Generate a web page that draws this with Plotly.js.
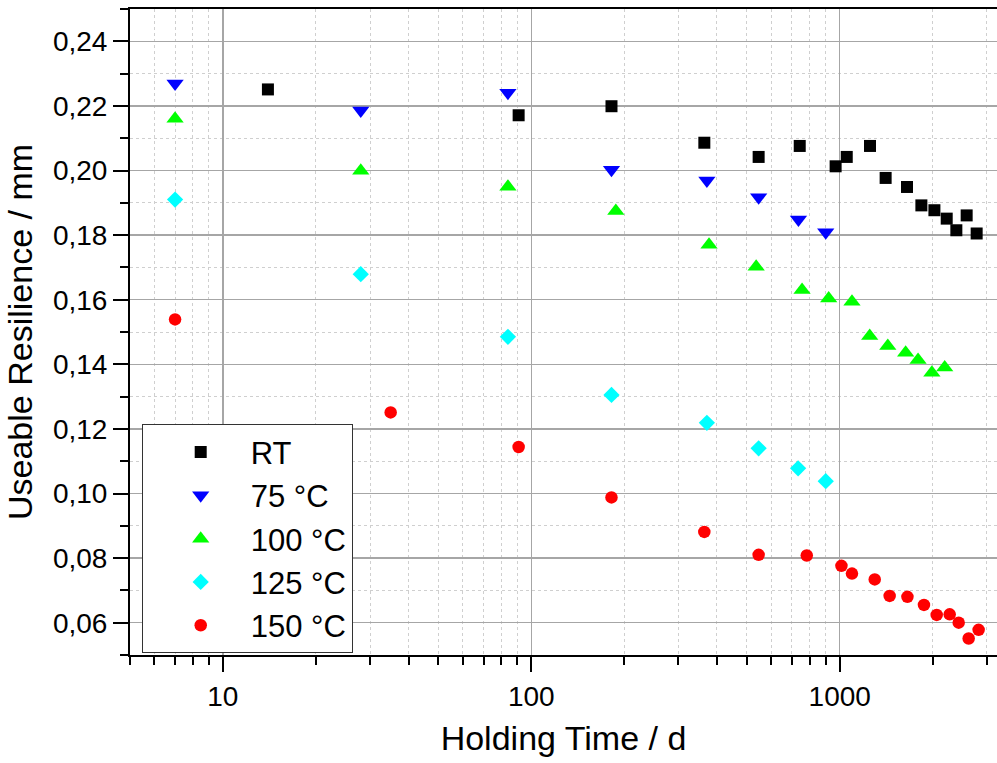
<!DOCTYPE html>
<html>
<head>
<meta charset="utf-8">
<script src="https://cdn.plot.ly/plotly-3.0.1.min.js"></script>
<style>html,body{margin:0;padding:0;overflow:hidden;background:#fff}</style>
</head>
<body>
<div id="chart" style="width:997px;height:763px"></div>
<script>
// Data
const seriesNames = ["RT", "75 °C", "100 °C", "125 °C", "150 °C"];

const rtX = [14, 91, 182, 364, 546, 742, 970, 1054, 1254, 1409, 1653, 1840, 2028, 2223, 2389, 2580, 2780];
const rtY = [0.2251, 0.2171, 0.2199, 0.2086, 0.2042, 0.2076, 0.2013, 0.2042, 0.2076, 0.1977, 0.1949, 0.1892, 0.1877, 0.1851, 0.1815, 0.1861, 0.1805];

const t75X = [7, 28, 84, 182, 371, 546, 735, 901];
const t75Y = [0.2269, 0.2186, 0.2241, 0.2002, 0.1969, 0.1917, 0.1848, 0.1809];

const t100X = [7, 28, 84, 188, 377, 536, 755, 921, 1096, 1251, 1432, 1636, 1795, 1990, 2190];
const t100Y = [0.2160, 0.1999, 0.1950, 0.1875, 0.1770, 0.1702, 0.1630, 0.1604, 0.1594, 0.1488, 0.1457, 0.1436, 0.1413, 0.1374, 0.1390];

const t125X = [7, 28, 84, 182, 371, 546, 733, 901];
const t125Y = [0.1910, 0.1679, 0.1485, 0.1305, 0.1219, 0.1140, 0.1078, 0.1038];

const t150X = [7, 35, 91, 182, 364, 546, 782, 1013, 1096, 1299, 1452, 1658, 1876, 2063, 2273, 2431, 2619, 2821];
const t150Y = [0.1539, 0.1251, 0.1144, 0.0988, 0.0881, 0.0810, 0.0808, 0.0776, 0.0752, 0.0734, 0.0683, 0.0680, 0.0655, 0.0624, 0.0626, 0.0600, 0.0551, 0.0578];

const FONT = "Liberation Sans, Arial, Helvetica, sans-serif";

function tr(name, x, y, symbol, color, size) {
  return {
    type: "scatter", mode: "markers", name: name, x: x, y: y,
    marker: {symbol: symbol, color: color, size: size, line: {width: 0}},
    cliponaxis: false
  };
}

const data = [
  tr(seriesNames[0], rtX, rtY, "square", "#000000", 12),
  tr(seriesNames[1], t75X, t75Y, "triangle-down", "#0000ff", 15),
  tr(seriesNames[2], t100X, t100Y, "triangle-up", "#00ff00", 15),
  tr(seriesNames[3], t125X, t125Y, "diamond", "#00ffff", 12.5),
  tr(seriesNames[4], t150X, t150Y, "circle", "#ff0000", 12.5)
];

const layout = {
  width: 997, height: 763,
  margin: {l: 130, r: 0, t: 9, b: 108},
  paper_bgcolor: "#ffffff", plot_bgcolor: "#ffffff",
  separators: ",.",
  font: {family: FONT, color: "#000000", size: 28},
  showlegend: true,
  legend: {
    x: 0.0135, y: 0.357, xanchor: "left", yanchor: "top",
    bgcolor: "#ffffff", bordercolor: "#333333", borderwidth: 1,
    font: {family: FONT, size: 31, color: "#000000"},
    itemwidth: 90, indentation: 8, tracegroupgap: 0
  },
  xaxis: {
    type: "log",
    range: [Math.log10(5), 3.51],
    tickvals: [10, 100, 1000],
    ticktext: ["10", "100", "1000"],
    ticks: "outside", ticklen: 15, tickwidth: 2, tickcolor: "#000",
    showline: true, linecolor: "#000", linewidth: 2, mirror: true,
    showgrid: true, gridcolor: "#a6a6a6", gridwidth: 1.5,
    zeroline: false,
    tickfont: {family: FONT, size: 28},
    minor: {
      tickvals: [5,6,7,8,9,20,30,40,50,60,70,80,90,200,300,400,500,600,700,800,900,2000,3000],
      ticks: "outside", ticklen: 8, tickwidth: 2, tickcolor: "#000",
      showgrid: true, gridcolor: "#cfcfcf", gridwidth: 1, griddash: "dot"
    },
    title: {text: "Holding Time / d", font: {family: FONT, size: 34}, standoff: 16}
  },
  yaxis: {
    range: [0.05, 0.25],
    tick0: 0, dtick: 0.02,
    tickformat: ".2f",
    ticks: "outside", ticklen: 15, tickwidth: 2, tickcolor: "#000",
    showline: true, linecolor: "#000", linewidth: 2, mirror: false,
    showgrid: true, gridcolor: "#a6a6a6", gridwidth: 1.5,
    zeroline: false,
    tickfont: {family: FONT, size: 28},
    minor: {
      tick0: 0.05, dtick: 0.02,
      ticks: "outside", ticklen: 8, tickwidth: 2, tickcolor: "#000",
      showgrid: true, gridcolor: "#cfcfcf", gridwidth: 1, griddash: "dot"
    },
    title: {text: "Useable Resilience / mm", font: {family: FONT, size: 34}, standoff: 10}
  }
};

Plotly.newPlot("chart", data, layout, {displayModeBar: false, staticPlot: true});
</script>
</body>
</html>
